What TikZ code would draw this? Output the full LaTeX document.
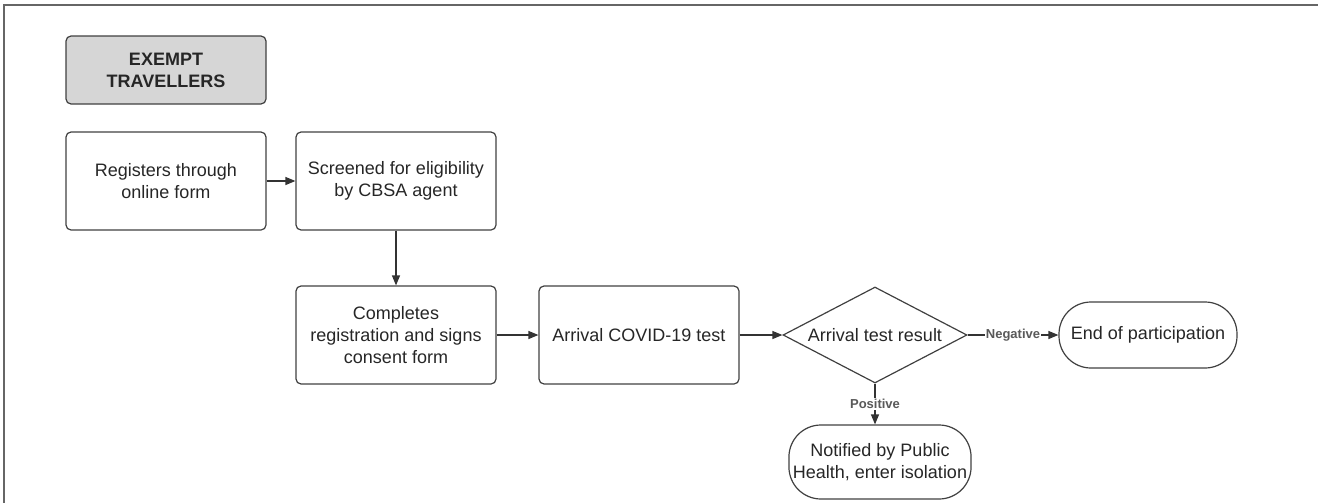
\documentclass[tikz,border=0pt]{standalone}
\usepackage{fontspec}
\setmainfont{Liberation Sans}
\usepackage{tikz}
\usetikzlibrary{arrows.meta,shapes.geometric}

\begin{document}
\begin{tikzpicture}[x=0.5pt, y=-0.5pt,
  every node/.style={font=\fontsize{9}{11}\selectfont, text=black!85},
  stepbox/.style={draw=black!75, line width=0.6pt, rounded corners=2.5pt, align=center,
    minimum width=100pt, minimum height=49pt, inner sep=2pt},
  endbox/.style={draw=black!75, line width=0.6pt, rounded corners=16pt, align=center,
    minimum width=89pt, inner sep=2pt},
  flow/.style={draw=black!80, line width=0.6pt, -{Triangle[length=5pt,width=4pt]}},
  answer/.style={fill=white, inner sep=0.5pt, text=black!65, font=\fontsize{6.5}{8}\selectfont\bfseries}]
\useasboundingbox (0,0) rectangle (1318,503);
\draw[black!60, line width=0.9pt] (4,503) -- (4,5) -- (1318,5);

\node[stepbox, fill=black!16, minimum height=34pt, font=\fontsize{9}{11}\selectfont\bfseries] (title) at (166,70) {EXEMPT\\TRAVELLERS};
\node[stepbox] (register) at (166,181) {Registers through\\online form};
\node[stepbox] (screen) at (396,181) {Screened for eligibility\\by CBSA agent};
\node[stepbox] (consent) at (396,335) {Completes\\registration and signs\\consent form};
\node[stepbox] (test) at (639,335) {Arrival COVID-19 test};
\node[draw=black!75, line width=0.6pt, diamond, aspect=1.92, inner sep=0pt,
  minimum width=92pt, minimum height=48pt] (result) at (875,335) {Arrival test result};
\node[endbox, minimum height=33pt] (finish) at (1148,335) {End of participation};
\node[endbox, minimum height=37pt] (isolate) at (880,462) {Notified by Public\\Health, enter isolation};

\draw[flow] (register) -- (screen);
\draw[flow] (screen) -- (consent);
\draw[flow] (consent) -- (test);
\draw[flow] (test) -- (result);
\draw[flow] (result) -- node[answer] {Negative} (finish);
\draw[flow] (result.south) -- node[answer] {Positive} (result.south |- isolate.north);
\end{tikzpicture}
\end{document}
